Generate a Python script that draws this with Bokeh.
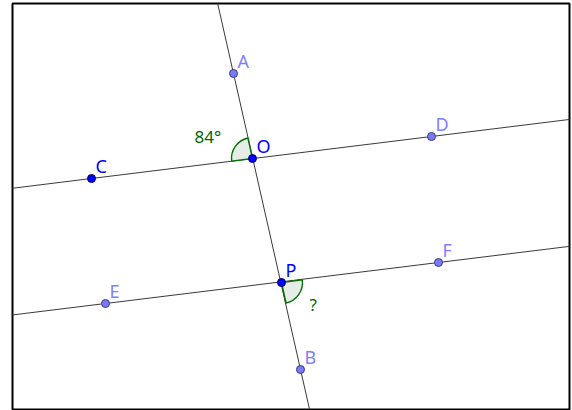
import math
from bokeh.plotting import figure
from bokeh.models import Range1d, ColumnDataSource
from bokeh.core.properties import value
from bokeh.embed import file_html
from bokeh.resources import INLINE

# Points (x right, y up)
point_names = ["A", "B", "C", "D", "E", "F", "O", "P"]
point_x = [233, 300, 91, 431, 105, 438, 252, 281]
point_y = [337, 41, 232, 274, 107, 148, 252, 128]
point_kind = ["path", "path", "free", "path", "path", "path", "free", "free"]

# Lines through pairs of points
line_pairs = [("A", "B"), ("C", "D"), ("E", "F")]

# Angles: (vertex, from-point, to-point, label)
angle_defs = [("O", "A", "C", "84°"), ("P", "B", "F", "?")]

W, H = 572, 410
BL, BR, BT, BB = 12, 3, 3, 1
X0, X1 = 12, 569
Y0, Y1 = 1, 407

p = figure(width=W, height=H, output_backend="svg", toolbar_location=None,
           x_range=Range1d(X0, X1), y_range=Range1d(Y0, Y1),
           min_border_left=BL, min_border_right=BR,
           min_border_top=BT, min_border_bottom=BB)
p.axis.visible = False
p.xgrid.visible = False
p.ygrid.visible = False
p.outline_line_color = "black"
p.outline_line_width = 2
p.background_fill_color = "white"
p.border_fill_color = "white"

pt = {n: (x, y) for n, x, y in zip(point_names, point_x, point_y)}

sx = (W - BL - BR) / (X1 - X0)
sy = (H - BT - BB) / (Y1 - Y0)

# Lines
xs, ys = [], []
for a, b in line_pairs:
    (ax, ay), (bx, by) = pt[a], pt[b]
    xs.append([ax - 20 * (bx - ax), ax + 20 * (bx - ax)])
    ys.append([ay - 20 * (by - ay), ay + 20 * (by - ay)])
p.multi_line(xs, ys, line_color="#3a3a3a", line_width=1)

# Angles
for v, f, t, lab in angle_defs:
    (vx, vy), (fx, fy), (tx, ty) = pt[v], pt[f], pt[t]
    a1 = math.atan2((fy - vy) * sy, (fx - vx) * sx)
    a2 = math.atan2((ty - vy) * sy, (tx - vx) * sx)
    p.wedge(x=[vx], y=[vy], radius=21, radius_units="screen",
            start_angle=a1, end_angle=a2, direction="anticlock",
            fill_color="#e6ece6", fill_alpha=1,
            line_color="#007000", line_width=1.4)

# Angle labels
lab_src = ColumnDataSource(dict(
    x=[pt["O"][0], pt["P"][0]], y=[pt["O"][1], pt["P"][1]],
    t=[angle_defs[0][3], angle_defs[1][3]],
    xo=[-58, 28], yo=[-22, 22]))
p.text(x="x", y="y", text="t", x_offset="xo", y_offset="yo", source=lab_src,
       text_color="#006400", text_font=value("Noto Sans"),
       text_font_size="17px", text_baseline="alphabetic", text_align="left")

# Points
fill = {"path": "#7b7bf5", "free": "#0000ff"}
edge = {"path": "#3a3a8a", "free": "#00006a"}
lcol = {"path": "#8080ff", "free": "#0000ff"}
src = ColumnDataSource(dict(
    x=point_x, y=point_y, name=point_names,
    fc=[fill[k] for k in point_kind], ec=[edge[k] for k in point_kind],
    lc=[lcol[k] for k in point_kind]))
p.scatter(x="x", y="y", source=src, size=8, fill_color="fc", line_color="ec",
          line_width=1)
p.text(x="x", y="y", text="name", source=src, x_offset=4, y_offset=-13,
       text_color="lc", text_font=value("Noto Sans"), text_font_size="18px",
       text_baseline="alphabetic", text_align="left")

open("out.html", "w").write(file_html(p, INLINE))
